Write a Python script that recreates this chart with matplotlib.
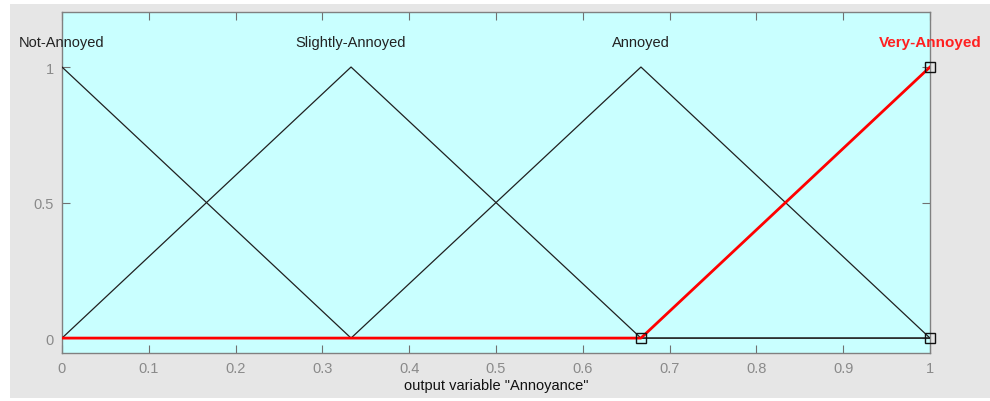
import matplotlib
matplotlib.use("Agg")
import matplotlib.pyplot as plt
from matplotlib.patches import Rectangle
import numpy as np

# Membership function data (triangular MFs)
mf_names = ["Not-Annoyed", "Slightly-Annoyed", "Annoyed", "Very-Annoyed"]
mf_params = [[-0.333, 0.0, 0.333],
             [0.0, 0.333, 0.667],
             [0.333, 0.667, 1.0],
             [0.667, 1.0, 1.333]]
selected = 3
xticks = [0, 0.1, 0.2, 0.3, 0.4, 0.5, 0.6, 0.7, 0.8, 0.9, 1]
xtick_labels = ["0", "0.1", "0.2", "0.3", "0.4", "0.5", "0.6", "0.7", "0.8", "0.9", "1"]
yticks = [0, 0.5, 1]
ytick_labels = ["0", "0.5", "1"]
xlabel = 'output variable "Annoyance"'

plt.rcParams['font.family'] = ['Liberation Sans', 'DejaVu Sans']

W, H = 990, 402
fig = plt.figure(figsize=(W / 100, H / 100), dpi=100, facecolor="white")
bg = Rectangle((10 / W, 3 / H), 980 / W, 394 / H, transform=fig.transFigure,
               facecolor="#e6e6e6", edgecolor="none", zorder=-10)
fig.add_artist(bg)

left, right, top, bottom = 62, 930, 13, 354
ax = fig.add_axes([left / W, 1 - bottom / H, (right - left) / W, (bottom - top) / H])
ax.set_zorder(5)
ax.set_facecolor("#c9ffff")
ax.set_xlim(0, 1)
ax.set_ylim(-0.055, 1.203)

x = np.linspace(0, 1, 1001)
for i, (a, b, c) in enumerate(mf_params):
    y = np.maximum(np.minimum((x - a) / (b - a), (c - x) / (c - b)), 0)
    if i == selected:
        ax.plot(x, y, color="#ff0000", lw=2.0, zorder=4)
    else:
        ax.plot(x, y, color="#202020", lw=0.9, zorder=3)
    col = "#ff2020" if i == selected else "#222222"
    wt = "bold" if i == selected else "normal"
    fs = 11 if i == selected else 10.5
    ax.text(b, 1.092, mf_names[i], ha="center", va="center", fontsize=fs,
            color=col, fontweight=wt, zorder=5, clip_on=False)

# markers for the selected MF's parameter points
a, b, c = mf_params[selected]
ax.plot([a, b, b], [0, 1, 0], linestyle="none", marker="s", markersize=7,
        markerfacecolor="none", markeredgecolor="#111111", markeredgewidth=1.0,
        zorder=6, clip_on=False)

ax.set_xticks(xticks)
ax.set_xticklabels(xtick_labels)
ax.set_yticks(yticks)
ax.set_yticklabels(ytick_labels)
ax.tick_params(direction="in", length=6, width=0.8, color="#707070",
               labelcolor="#8a8a8a", labelsize=10.5, top=True, right=True, pad=6)
for s in ax.spines.values():
    s.set_color("#808080")
    s.set_linewidth(1.0)
ax.set_xlabel(xlabel, fontsize=10.5, color="#111111", labelpad=2)

fig.savefig("out.png", dpi=100, facecolor="white")
